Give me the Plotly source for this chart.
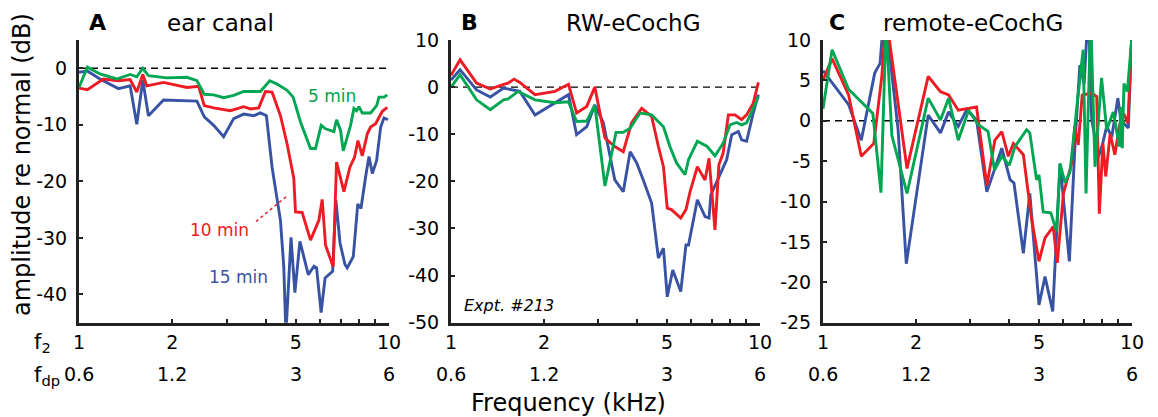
import math
import plotly.graph_objects as go

# ---------------- data (f2 in kHz, amplitude in dB re normal) ----------------
# Panel A: ear canal
A_blue_f = [1.0, 1.064, 1.169, 1.340, 1.462, 1.536, 1.606, 1.675, 1.873, 2.401, 2.536, 2.719, 2.928, 3.155, 3.399,
            3.661, 3.847, 4.023, 4.196, 4.465, 4.577, 4.65, 4.83, 4.97, 5.16, 5.49, 5.73, 5.84, 6.04, 6.22,
            6.58, 6.74, 6.95, 7.21, 7.33, 7.67, 7.93, 8.12, 8.406, 8.617, 8.835, 9.123, 9.399, 9.634, 9.926]
A_blue_db = [-0.7, -0.5, -1.9, -3.6, -3.1, -9.9, -2.1, -8.4, -5.6, -5.8, -8.6, -10.1, -12.1, -8.9, -8.1,
             -8.4, -7.9, -8.4, -17.5, -26.9, -35.1, -47.0, -29.9, -39.7, -30.6, -36.5, -35.0, -35.3, -43.2, -37.1,
             -35.9, -23.3, -30.9, -34.7, -35.3, -33.3, -24.0, -24.8, -19.2, -15.6, -18.6, -16.3, -10.4, -8.8, -9.1]
A_red_f = [1.0, 1.064, 1.199, 1.340, 1.462, 1.536, 1.606, 1.655, 1.873, 2.229, 2.431, 2.536, 2.719, 3.077, 3.399,
           3.571, 3.800, 3.993, 4.196, 4.465, 4.692, 4.931, 4.993, 5.246, 5.582, 5.939, 6.088, 6.242, 6.607, 6.773,
           7.154, 7.479, 7.745, 7.940, 8.199, 8.511, 8.724, 9.056, 9.515, 9.876]
A_red_db = [-3.5, -3.8, -1.9, -2.2, -2.0, -4.2, -1.1, -3.1, -2.5, -3.4, -3.2, -6.6, -7.0, -7.5, -6.8,
            -7.2, -7.0, -4.1, -4.2, -8.4, -13.4, -19.5, -25.4, -25.5, -30.4, -26.9, -23.2, -31.3, -35.1, -16.6,
            -21.8, -17.5, -15.7, -12.8, -15.5, -11.6, -10.4, -9.8, -7.6, -6.9]
A_green_f = [1.0, 1.064, 1.169, 1.324, 1.462, 1.536, 1.606, 1.675, 1.920, 2.229, 2.401, 2.536, 2.719, 2.928, 3.155,
             3.399, 3.847, 4.124, 4.355, 4.692, 4.906, 5.182, 5.582, 5.794, 6.043, 6.242, 6.640, 6.773, 6.979, 7.119,
             7.516, 7.705, 7.859, 7.998, 8.199, 8.724, 9.123, 9.284, 9.634, 9.876]
A_green_db = [-3.4, 0.2, -1.0, -1.9, -1.1, -1.5, 0.0, -1.3, -1.7, -1.6, -2.2, -4.6, -4.7, -5.2, -4.8,
              -4.1, -4.1, -2.2, -2.8, -3.9, -5.1, -9.5, -14.2, -14.2, -10.1, -10.7, -11.2, -9.1, -11.0, -14.6,
              -10.1, -7.1, -7.5, -6.8, -7.9, -7.9, -6.6, -5.1, -5.1, -4.7]

# Panel B: RW-eCochG
B_blue_f = [1.0, 1.07, 1.21, 1.34, 1.48, 1.67, 1.87, 2.17, 2.40, 2.55, 2.75, 2.92, 3.11, 3.39, 3.61,
            3.80, 3.99, 4.19, 4.46, 4.69, 4.87, 5.01, 5.22, 5.54, 5.76, 5.87, 6.27, 6.64, 6.84, 6.93,
            7.33, 7.80, 8.10, 8.51, 8.72, 9.05, 9.51, 9.88]
B_blue_db = [1.5, 3.7, -0.6, -2.1, -0.2, -0.9, -5.9, -3.4, -1.6, -10.1, -8.4, -3.8, -7.5, -19.7, -22.2,
             -13.7, -16.1, -19.7, -24.6, -36.3, -34.2, -44.5, -38.8, -43.4, -33.5, -33.5, -23.9, -27.5, -27.8, -22.9,
             -19.3, -15.4, -10.1, -9.4, -11.2, -11.5, -5.5, -1.6]
B_red_f = [1.0, 1.07, 1.21, 1.34, 1.48, 1.53, 1.60, 1.67, 1.87, 2.17, 2.40, 2.55, 2.75, 2.92, 3.15,
           3.39, 3.61, 3.84, 4.14, 4.46, 4.69, 4.87, 5.01, 5.17, 5.54, 5.76, 5.94, 6.27, 6.64, 6.84,
           7.15, 7.36, 7.60, 7.90, 8.30, 8.72, 9.05, 9.51, 9.88]
B_red_db = [2.5, 5.8, 0.85, -0.4, 0.6, 0.85, 1.7, 1.0, -1.6, -0.9, 0.6, -5.5, -4.1, 0.0, -10.8,
            -12.6, -13.7, -7.6, -4.5, -6.2, -12.6, -16.9, -25.7, -26.0, -27.8, -26.0, -22.2, -16.9, -19.7, -15.1,
            -30.3, -16.5, -14.0, -5.9, -5.9, -6.9, -5.9, -3.4, 1.0]
B_green_f = [1.0, 1.07, 1.21, 1.34, 1.48, 1.53, 1.65, 1.87, 2.17, 2.40, 2.55, 2.75, 2.92, 3.15, 3.42,
             3.61, 3.80, 4.09, 4.46, 4.87, 5.11, 5.37, 5.72, 5.87, 6.27, 6.75, 7.15, 7.60, 8.0, 8.40,
             8.72, 9.05, 9.51, 9.88]
B_green_db = [0.0, 2.6, -2.7, -4.8, -2.7, -2.5, -0.9, -2.7, -3.3, -3.1, -7.3, -7.2, -3.8, -21.0, -9.6,
              -9.6, -8.7, -5.5, -5.9, -8.4, -12.6, -16.1, -18.6, -15.4, -11.5, -12.6, -14.6, -11.9, -8.0, -7.5,
              -8.0, -7.6, -4.5, -2.0]

# Panel C: remote-eCochG
C_blue_f = [1.0, 1.21, 1.33, 1.47, 1.53, 1.58, 1.75, 1.86, 2.19, 2.40, 2.55, 2.74, 2.92, 3.14,
            3.39, 3.79, 4.03, 4.15, 4.45, 4.67, 5.0, 5.23, 5.54, 5.85, 6.27, 6.55, 6.78, 7.0, 7.22,
            7.41, 7.78, 8.04, 8.28, 8.6, 9.0, 9.2, 9.5, 9.73, 9.97]
C_blue_db = [6.2, 2.0, -2.4, 5.9, 7.1, 14.0, -1.1, -17.7, 0.7, -1.5, 1.1, -0.7, 1.4, 0.1,
             -8.8, -3.4, -7.3, -7.7, -16.4, -9.0, -22.8, -19.3, -23.6, -5.3, -17.4, -2.4, 6.9, 4.6, 14.0,
             0.1, -4.5, -2.8, -0.7, -2.0, 2.8, 0.1, -0.5, -0.9, 10.0]
C_red_f = [1.0, 1.07, 1.21, 1.33, 1.46, 1.55, 1.60, 1.87, 2.19, 2.40, 2.55, 2.74, 3.14, 3.39, 3.60,
           3.79, 3.98, 4.13, 4.45, 4.73, 5.0, 5.23, 5.56, 5.73, 6.0, 6.38, 6.53, 6.70, 6.90, 7.41,
           7.69, 7.84, 8.05, 8.22, 8.5, 8.8, 9.1, 9.4, 9.7, 9.97]
C_red_db = [5.0, 7.7, 3.2, -4.4, -2.8, 5.5, 13.0, -5.9, 5.5, 3.6, 3.2, 1.3, 1.7, -8.0, -2.4,
            -1.35, -4.4, -2.8, -4.2, -12.1, -17.4, -14.5, -13.1, -17.6, -9.0, -5.3, -0.7, -3.0, 3.2, 3.4,
            3.0, -11.5, -2.8, -6.9, -1.6, -4.2, -0.7, 0.9, -0.3, 10.0]
C_green_f = [1.0, 1.07, 1.21, 1.33, 1.45, 1.54, 1.60, 1.67, 1.87, 2.19, 2.40, 2.55, 2.74, 2.96, 3.18,
             3.42, 3.59, 3.79, 4.01, 4.18, 4.56, 4.67, 4.91, 5.0, 5.16, 5.46, 5.70, 5.85, 6.07, 6.30,
             6.46, 6.70, 6.95, 7.10, 7.35, 7.59, 7.97, 8.28, 8.70, 9.10, 9.19, 9.30, 9.42, 9.66, 9.97]
C_green_db = [1.5, 8.8, 3.9, 2.3, 0.9, -8.9, 12.0, -1.8, -9.0, 2.8, 0.1, 2.8, -2.4, 1.3, -0.5,
              -1.3, -6.1, -4.4, -5.5, -3.2, -1.1, -1.5, -7.3, -6.7, -11.3, -11.4, -13.7, -5.3, -7.7, -6.3,
              -2.0, 3.4, 8.8, -9.0, 13.0, -5.7, 5.3, -1.1, 1.1, -3.2, 1.7, -3.4, 4.6, 3.6, 10.0]

# axis ticks / labels
f2_ticks = [1, 2, 5, 10]
f2_ticktext = ["1", "2", "5", "10"]
f2_minor_ticks = [3, 4, 6, 7, 8, 9]
fdp_at_f2 = [1, 2, 5, 10]
fdp_labels = ["0.6", "1.2", "3", "6"]
panel_letters = ["A", "B", "C"]
panel_titles = ["ear canal", "RW-eCochG", "remote-eCochG"]
y_ranges = [[-45, 5], [-50, 10], [-25, 10]]
y_ticks = [[-40, -30, -20, -10, 0], [-50, -40, -30, -20, -10, 0, 10], [-25, -20, -15, -10, -5, 0, 5, 10]]

# ---------------- styling ----------------
W, H = 1158, 417
BLUE, RED, GREEN = "#3953A4", "#ED1C24", "#00A651"
AX = "#222222"
FONT = "DejaVu Sans"

x_px = [(79, 389), (451, 760), (823, 1132)]
y_top, y_bot = 40, 322.7
title_x = [(97, 220), (469, 633), (837, 973)]

def px(x):
    return x / W

def py(y):
    return 1 - y / H

fig = go.Figure()

panels = [
    (A_blue_f, A_blue_db, A_red_f, A_red_db, A_green_f, A_green_db),
    (B_blue_f, B_blue_db, B_red_f, B_red_db, B_green_f, B_green_db),
    (C_blue_f, C_blue_db, C_red_f, C_red_db, C_green_f, C_green_db),
]

annotations = []
for i, (bf, bd, rf, rd, gf, gd) in enumerate(panels):
    sfx = "" if i == 0 else str(i + 1)
    xa, ya = "x" + sfx, "y" + sfx
    fig.add_trace(go.Scatter(x=[1, 10], y=[0, 0], mode="lines", xaxis=xa, yaxis=ya,
                             line=dict(color="black", width=1.4, dash="7px,5px"), hoverinfo="skip"))
    for f, d, c in ((bf, bd, BLUE), (rf, rd, RED), (gf, gd, GREEN)):
        fig.add_trace(go.Scatter(x=f, y=d, mode="lines", xaxis=xa, yaxis=ya,
                                 line=dict(color=c, width=2.9)))
    fig.layout["xaxis" + sfx] = dict(
        type="log", range=[0, 1], domain=[px(x_px[i][0]), px(x_px[i][1])], anchor=ya,
        tickvals=f2_ticks, ticktext=f2_ticktext, ticks="inside", ticklen=4, tickwidth=2, tickcolor=AX,
        minor=dict(tickvals=f2_minor_ticks, ticks="inside", ticklen=4, tickwidth=2, tickcolor=AX, showgrid=False),
        tickangle=0,
        showline=True, linewidth=3, linecolor=AX, showgrid=False, zeroline=False, automargin=False,
        tickfont=dict(family=FONT, size=19, color="black"), ticklabelstandoff=0,
    )
    fig.layout["yaxis" + sfx] = dict(
        range=y_ranges[i], domain=[py(y_bot), py(y_top)], anchor=xa,
        tickvals=y_ticks[i], ticktext=[str(v) for v in y_ticks[i]],
        ticks="inside", ticklen=4, tickwidth=2, tickcolor=AX,
        showline=True, linewidth=3, linecolor=AX, showgrid=False, zeroline=False, automargin=False,
        tickfont=dict(family=FONT, size=19, color="black"), ticklabelstandoff=5,
    )
    # f_dp row
    for f2, lab in zip(fdp_at_f2, fdp_labels):
        annotations.append(dict(x=math.log10(f2), y=py(374), xref=xa, yref="paper", text=lab,
                                showarrow=False, xanchor="center", yanchor="middle",
                                font=dict(family=FONT, size=19, color="black")))
    # panel letter + title
    annotations.append(dict(x=px(title_x[i][0]), y=py(23), xref="paper", yref="paper",
                            text="<b>" + panel_letters[i] + "</b>", showarrow=False,
                            xanchor="center", yanchor="middle", font=dict(family=FONT, size=22, color="black")))
    annotations.append(dict(x=px(title_x[i][1]), y=py(23), xref="paper", yref="paper",
                            text=panel_titles[i], showarrow=False,
                            xanchor="center", yanchor="middle", font=dict(family=FONT, size=23, color="black")))

# row labels
annotations.append(dict(x=px(32), y=py(343), xref="paper", yref="paper", text="f<sub>2</sub>",
                        showarrow=False, xanchor="left", yanchor="middle",
                        font=dict(family=FONT, size=21, color="black")))
annotations.append(dict(x=px(32), y=py(376), xref="paper", yref="paper", text="f<sub>dp</sub>",
                        showarrow=False, xanchor="left", yanchor="middle",
                        font=dict(family=FONT, size=21, color="black")))
# axis titles
annotations.append(dict(x=px(22), y=py(165), xref="paper", yref="paper", text="amplitude re normal (dB)",
                        textangle=-90, showarrow=False, xanchor="center", yanchor="middle",
                        font=dict(family=FONT, size=24, color="black")))
annotations.append(dict(x=px(568), y=py(403), xref="paper", yref="paper", text="Frequency (kHz)",
                        showarrow=False, xanchor="center", yanchor="middle",
                        font=dict(family=FONT, size=24, color="black")))
# in-panel labels
annotations.append(dict(x=px(332), y=py(96), xref="paper", yref="paper", text="5 min", showarrow=False,
                        xanchor="center", yanchor="middle", font=dict(family=FONT, size=17, color=GREEN)))
annotations.append(dict(x=px(219), y=py(230), xref="paper", yref="paper", text="10 min", showarrow=False,
                        xanchor="center", yanchor="middle", font=dict(family=FONT, size=17, color=RED)))
annotations.append(dict(x=px(238), y=py(277), xref="paper", yref="paper", text="15 min", showarrow=False,
                        xanchor="center", yanchor="middle", font=dict(family=FONT, size=17, color=BLUE)))
annotations.append(dict(x=px(509), y=py(305), xref="paper", yref="paper", text="<i>Expt. #213</i>",
                        showarrow=False, xanchor="center", yanchor="middle",
                        font=dict(family=FONT, size=16, color="black")))

shapes = [dict(type="line", xref="paper", yref="paper", x0=px(256), y0=py(221.5), x1=px(287), y1=py(196),
               line=dict(color=RED, width=1.5, dash="dot"))]

fig.update_layout(
    width=W, height=H, margin=dict(l=0, r=0, t=0, b=0, autoexpand=False),
    paper_bgcolor="white", plot_bgcolor="white", showlegend=False,
    font=dict(family=FONT, color="black"),
    annotations=annotations, shapes=shapes,
)

fig.write_html("out.html")
